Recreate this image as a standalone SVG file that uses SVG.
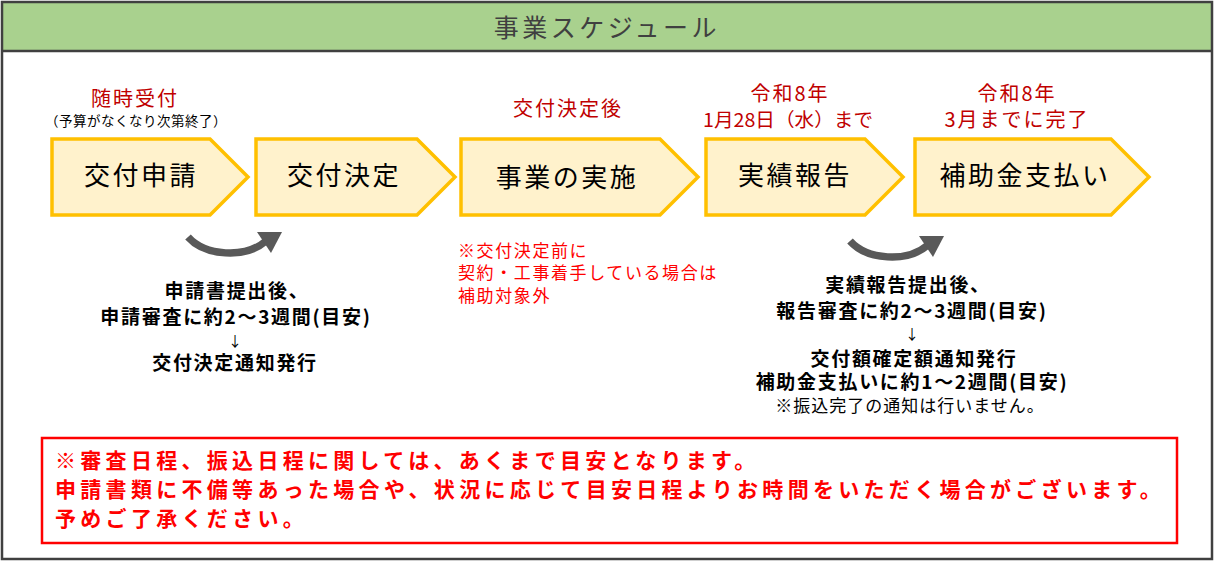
<svg xmlns="http://www.w3.org/2000/svg" xmlns:xlink="http://www.w3.org/1999/xlink" width="1214" height="561" viewBox="0 0 1214 561">
<style>
.jp{font-family:"Noto Sans CJK JP","Noto Sans CJK SC",sans-serif;}
.chev{fill:#FFF2CC;stroke:#FFC000;stroke-width:3.5;stroke-linejoin:miter;}
.ctext{font-size:26px;fill:#000;letter-spacing:2.5px;text-anchor:middle;}
.due{font-size:20px;fill:#C00000;letter-spacing:2px;text-anchor:middle;}
.desc{font-size:19px;font-weight:bold;fill:#000;letter-spacing:1.7px;text-anchor:middle;}
.note{font-size:17px;fill:#FF0000;letter-spacing:1.6px;}
.warn{font-size:21px;font-weight:bold;fill:#FF0000;letter-spacing:4.3px;}
</style>
<defs>
<g id="curve">
<path d="M188,237 C205,256 245,259 266,241" fill="none" stroke="#595959" stroke-width="7.5"/>
<polygon points="282,232 257,232 271,253" fill="#595959"/>
</g>
</defs>
<rect x="0" y="0" width="1214" height="561" fill="#fff"/>
<rect x="2" y="2" width="1210" height="49" fill="#A9D18E"/>
<line x1="2" y1="51" x2="1212" y2="51" stroke="#404040" stroke-width="2.5"/>
<rect x="2" y="2" width="1210" height="557" fill="none" stroke="#404040" stroke-width="2.5"/>
<text class="jp" x="607" y="37" font-size="25" fill="#404040" letter-spacing="3.5" text-anchor="middle">事業スケジュール</text>

<g id="step1">
<polygon class="chev" points="52,139 210,139 248,177 210,215 52,215"/>
<text class="jp ctext" x="141" y="185">交付申請</text>
</g>
<g id="step2">
<polygon class="chev" points="256,139 417,139 455,177 417,215 256,215"/>
<text class="jp ctext" x="344" y="185">交付決定</text>
</g>
<g id="step3">
<polygon class="chev" points="461,139 660,139 698,177 660,215 461,215"/>
<text class="jp ctext" x="567" y="187">事業の実施</text>
</g>
<g id="step4">
<polygon class="chev" points="706,139 865,139 903,177 865,215 706,215"/>
<text class="jp ctext" x="795" y="185">実績報告</text>
</g>
<g id="step5">
<polygon class="chev" points="915,139 1111,139 1149,177 1111,215 915,215"/>
<text class="jp ctext" x="1025" y="185">補助金支払い</text>
</g>

<g id="due-labels">
<text class="jp due" x="135" y="106">随時受付</text>
<text class="jp" x="136" y="126" font-size="13.5" fill="#000" letter-spacing="0.5" text-anchor="middle">（予算がなくなり次第終了）</text>
<text class="jp due" x="568" y="116">交付決定後</text>
<text class="jp due" x="790" y="101">令和8年</text>
<text class="jp due" x="788" y="127" style="font-size:19px;letter-spacing:0" textLength="170" lengthAdjust="spacingAndGlyphs">1月28日（水）まで</text>
<text class="jp due" x="1017" y="101">令和8年</text>
<text class="jp due" x="1017" y="127">3月までに完了</text>
</g>

<g id="connectors">
<use xlink:href="#curve"/>
<use xlink:href="#curve" transform="translate(662,4)"/>
</g>

<g id="desc-left">
<text class="jp desc" x="237" y="298">申請書提出後、</text>
<text class="jp desc" x="236" y="324">申請審査に約2～3週間(目安)</text>
<text class="jp" x="235" y="346" font-size="14" fill="#000" text-anchor="middle">↓</text>
<text class="jp desc" x="235" y="370">交付決定通知発行</text>
</g>

<g id="note-middle">
<text class="jp note" x="458" y="257">※交付決定前に</text>
<text class="jp note" x="458" y="279">契約・工事着手している場合は</text>
<text class="jp note" x="458" y="302">補助対象外</text>
</g>

<g id="desc-right">
<text class="jp desc" x="908" y="292">実績報告提出後、</text>
<text class="jp desc" x="912" y="318">報告審査に約2～3週間(目安)</text>
<text class="jp" x="912" y="339" font-size="14" fill="#000" text-anchor="middle">↓</text>
<text class="jp desc" x="914" y="366">交付額確定額通知発行</text>
<text class="jp desc" x="912" y="389">補助金支払いに約1～2週間(目安)</text>
<text class="jp" x="910" y="412" font-size="17" fill="#000" letter-spacing="1" text-anchor="middle">※振込完了の通知は行いません。</text>
</g>

<g id="warning-box">
<rect x="42" y="438" width="1135" height="105" fill="none" stroke="#FF0000" stroke-width="2.5"/>
<text class="jp warn" x="55" y="468">※審査日程、振込日程に関しては、あくまで目安となります。</text>
<text class="jp warn" x="55" y="497">申請書類に不備等あった場合や、状況に応じて目安日程よりお時間をいただく場合がございます。</text>
<text class="jp warn" x="55" y="526">予めご了承ください。</text>
</g>
</svg>
